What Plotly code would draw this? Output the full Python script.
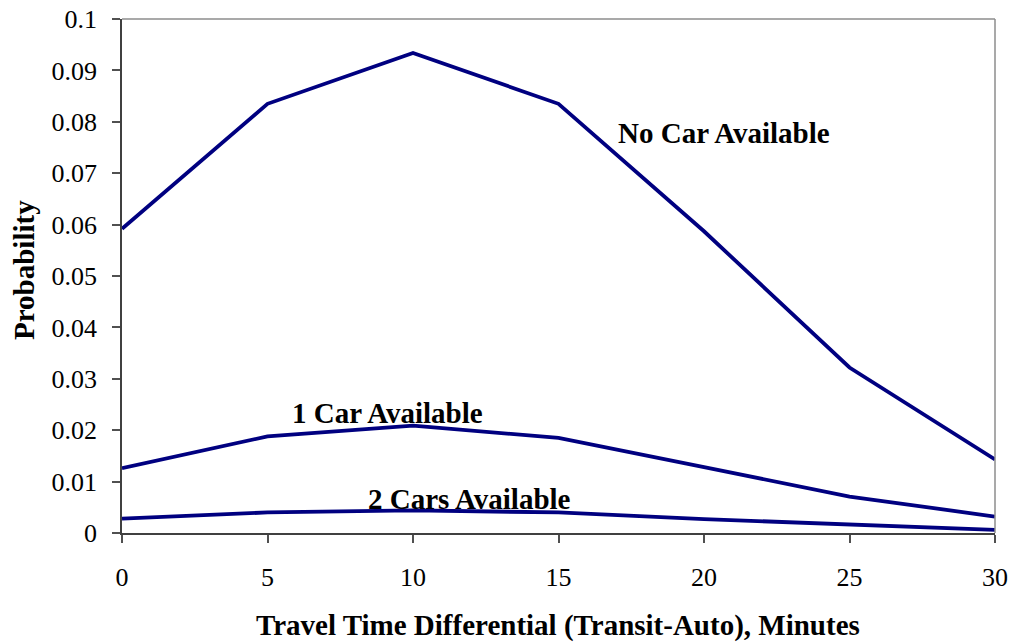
import plotly.graph_objects as go

minutes = [0, 5, 10, 15, 20, 25, 30]
no_car = [0.0592, 0.0835, 0.0934, 0.0835, 0.0587, 0.0322, 0.0143]
one_car = [0.0126, 0.0188, 0.0209, 0.0185, 0.0128, 0.0071, 0.0032]
two_cars = [0.0028, 0.0040, 0.0044, 0.0040, 0.0027, 0.0016, 0.0006]

labels = ["No Car Available", "1 Car Available", "2 Cars Available"]
label_x = [20.67, 9.12, 11.94]
label_y = [0.0778, 0.0233, 0.0066]

x_ticks = [0, 5, 10, 15, 20, 25, 30]
y_ticks = [0, 0.01, 0.02, 0.03, 0.04, 0.05, 0.06, 0.07, 0.08, 0.09, 0.1]
y_ticktext = ["0", "0.01", "0.02", "0.03", "0.04", "0.05", "0.06", "0.07", "0.08", "0.09", "0.1"]

LINE = "#000080"
FONT = "Liberation Serif, Times New Roman, serif"

W, H = 1012, 642
L, R, T, B = 122, 17, 19, 109
PW, PH = W - L - R, H - T - B

fig = go.Figure()
for name, ys in zip(labels, [no_car, one_car, two_cars]):
    fig.add_trace(go.Scatter(x=minutes, y=ys, mode="lines", name=name,
                             line=dict(color=LINE, width=3.8), showlegend=False,
                             hoverinfo="x+y", cliponaxis=False))

for t, xx, yy in zip(labels, label_x, label_y):
    fig.add_annotation(x=xx, y=yy, text="<b>%s</b>" % t, showarrow=False,
                       xanchor="center", yanchor="middle",
                       font=dict(family=FONT, size=29, color="black"))

fig.add_annotation(xref="paper", yref="paper", x=(558 - 122) / PW, y=-(625 - 533) / PH,
                   text="<b>Travel Time Differential (Transit-Auto), Minutes</b>",
                   showarrow=False, xanchor="center", yanchor="middle",
                   font=dict(family=FONT, size=29, color="black"))
fig.add_annotation(xref="paper", yref="paper", x=(24 - 122) / PW, y=(533 - 270) / PH,
                   text="<b>Probability</b>", textangle=-90,
                   showarrow=False, xanchor="center", yanchor="middle",
                   font=dict(family=FONT, size=29, color="black"))

# top and right border (lighter gray)
fig.add_shape(type="line", xref="paper", yref="paper", x0=0, x1=1, y0=1, y1=1,
              line=dict(color="#8c8c8c", width=1.5))
fig.add_shape(type="line", xref="paper", yref="paper", x0=1, x1=1, y0=0, y1=1,
              line=dict(color="#8c8c8c", width=1.5))

fig.update_layout(
    width=W, height=H,
    margin=dict(l=L, r=R, t=T, b=B),
    paper_bgcolor="white", plot_bgcolor="white",
    font=dict(family=FONT, size=26, color="black"),
    xaxis=dict(range=[0, 30], tickvals=x_ticks, ticks="outside", ticklen=8,
               tickcolor="#505050", tickwidth=1.5, showline=True, linecolor="#404040",
               linewidth=1.5, showgrid=False, zeroline=False, automargin=False,
               ticklabeloverflow="allow",
               tickfont=dict(family=FONT, size=26, color="black"), ticklabelstandoff=12),
    yaxis=dict(range=[0, 0.1], tickvals=y_ticks, ticktext=y_ticktext, ticks="outside",
               ticklen=8, tickcolor="#505050", tickwidth=1.5, showline=True,
               linecolor="#404040", linewidth=1.5, showgrid=False, zeroline=False,
               automargin=False, ticklabeloverflow="allow",
               tickfont=dict(family=FONT, size=26, color="black"), ticklabelstandoff=10),
)

fig.write_html("out.html", config={"displayModeBar": False},
               post_script="document.body.style.margin='0px';document.body.style.overflow='hidden';")
